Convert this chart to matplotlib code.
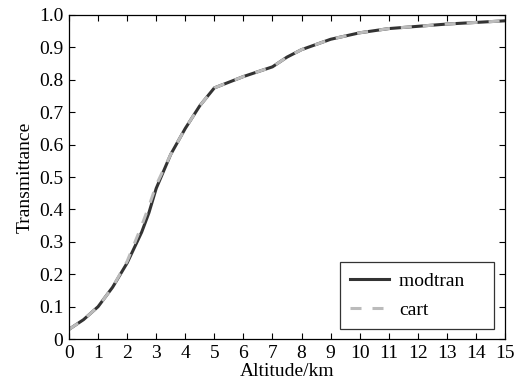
import matplotlib
matplotlib.use("Agg")
import matplotlib.pyplot as plt

# altitude (km) and transmittance
altitude = [0, 0.5, 1, 1.5, 2, 2.5, 2.75, 3, 3.5, 4, 4.5, 5, 6, 7, 7.5, 8, 9, 10, 11, 12, 13, 14, 15]
modtran = [0.03, 0.06, 0.10, 0.16, 0.235, 0.33, 0.39, 0.465, 0.57, 0.65, 0.72, 0.775, 0.81, 0.84, 0.87, 0.893, 0.925, 0.945, 0.958, 0.965, 0.972, 0.977, 0.982]
cart = [0.03, 0.06, 0.10, 0.16, 0.24, 0.35, 0.41, 0.475, 0.57, 0.65, 0.72, 0.775, 0.81, 0.84, 0.87, 0.893, 0.925, 0.945, 0.958, 0.965, 0.972, 0.977, 0.982]

xticks = list(range(0, 16))
yticks = [0, 0.1, 0.2, 0.3, 0.4, 0.5, 0.6, 0.7, 0.8, 0.9, 1.0]
ylabels = ["0", "0.1", "0.2", "0.3", "0.4", "0.5", "0.6", "0.7", "0.8", "0.9", "1.0"]

plt.rcParams['font.family'] = ['Liberation Serif', 'DejaVu Serif']
plt.rcParams['font.size'] = 14

fig = plt.figure(figsize=(5.19, 3.84), dpi=100)
ax = fig.add_axes([0.133, 0.117, 0.84, 0.844])

ax.plot(altitude, modtran, color='#333333', lw=2.2, label='modtran    ')
ax.plot(altitude, cart, color='#bbbbbb', lw=2.2, ls=(0, (3.6, 3.6)), label='cart')

ax.set_xlim(0, 15)
ax.set_ylim(0, 1.0)
ax.set_xticks(xticks)
ax.set_yticks(yticks)
ax.set_yticklabels(ylabels)
ax.tick_params(direction='in', top=True, right=True, length=4, width=0.8, pad=4)
for s in ax.spines.values():
    s.set_linewidth(0.9)

ax.set_xlabel('Altitude/km', labelpad=1)
ax.set_ylabel('Transmittance', labelpad=4)

leg = ax.legend(loc='lower right', fancybox=False, edgecolor='black',
                handlelength=2.0, handletextpad=0.55, borderpad=0.52,
                labelspacing=0.6, borderaxespad=0, bbox_to_anchor=(0.975, 0.031))
leg.get_frame().set_linewidth(0.9)

fig.savefig('out.png', dpi=100)
